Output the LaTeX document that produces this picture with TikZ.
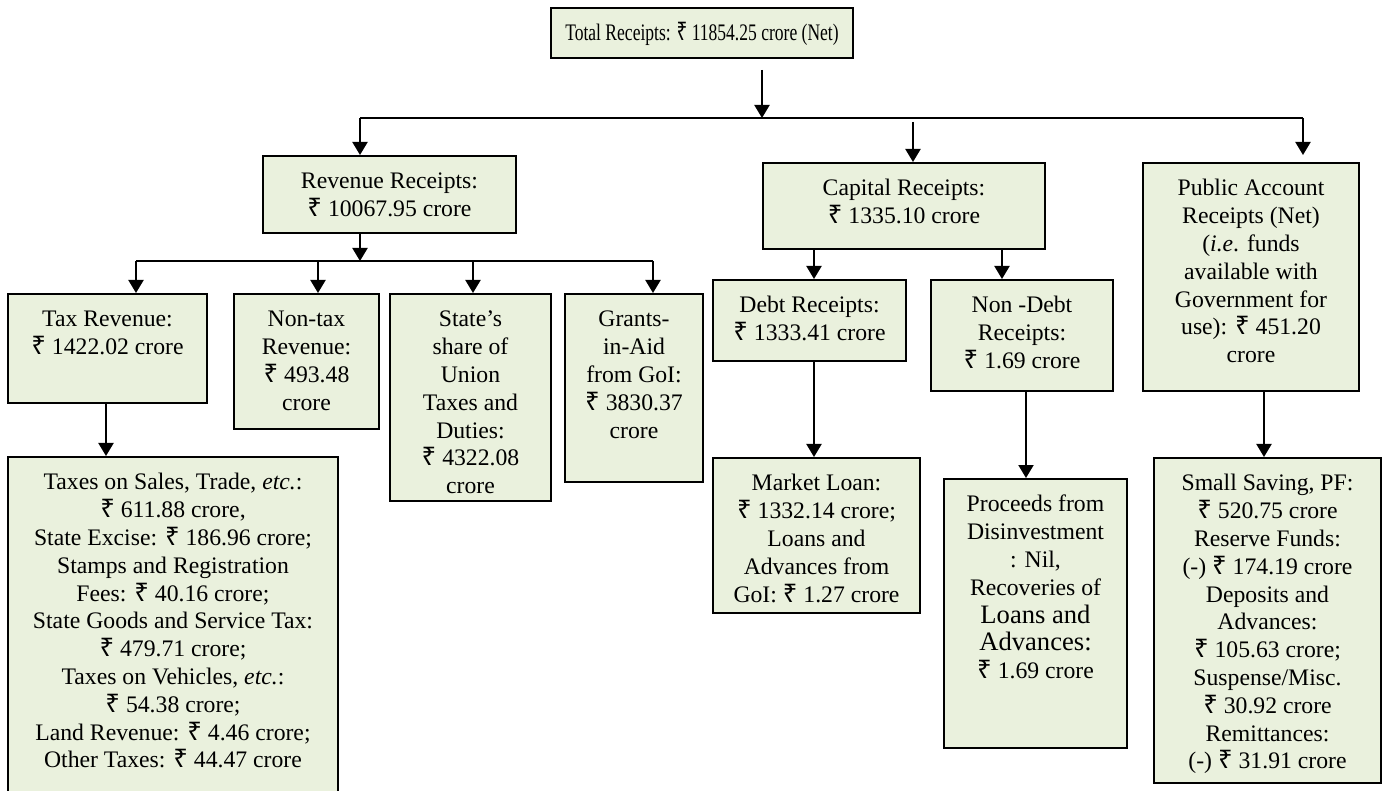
\documentclass[tikz,border=0pt]{standalone}
\usepackage{fontspec}
\usepackage{graphicx}
\setmainfont{Liberation Serif}
\newfontfamily\rupeefont{Noto Sans}[Scale=1.08]
\usetikzlibrary{arrows.meta}

\definecolor{boxfill}{HTML}{EAF1DD}
\newcommand{\Rs}{{\rupeefont\bfseries ₹}}
\newlength{\pxu}\setlength{\pxu}{0.5pt}
% box contents: width, height (in pixels), lines set from the top
\newcommand{\cell}[3]{\parbox[c][#2\pxu][t]{#1\pxu}{\centering\vspace*{6.7pt}\strut#3}}

\begin{document}
\begin{tikzpicture}[x=0.5pt,y=-0.5pt,font=\fontsize{11.85}{13.9}\selectfont,
    box/.style={draw,fill=boxfill,line width=1pt,inner sep=0pt,anchor=north west},
    arr/.style={-{Triangle[width=7.5pt,length=6.5pt]},line width=1pt},
    link/.style={line width=1pt}]
\useasboundingbox (0,0) rectangle (1388,791);

% Top level
\node[box] (total) at (550,7) {\cell{302}{50}{\scalebox{0.74}[1]{Total Receipts: \Rs\ 11854.25 crore (Net)}}};

\node[box] (revenue) at (262,155) {\cell{253}{77}{Revenue Receipts:\\\Rs\ 10067.95 crore}};
\node[box] (capital) at (762,162) {\cell{282}{86}{Capital Receipts:\\\Rs\ 1335.10 crore}};
\node[box] (public) at (1142,162) {\cell{216}{228}{Public Account\\Receipts (Net)\\(\textit{i.e}. funds\\available with\\Government for\\use): \Rs\ 451.20\\crore}};

% Revenue branch
\node[box] (taxrev) at (7,293) {\cell{199}{109}{Tax Revenue:\\\Rs\ 1422.02 crore}};
\node[box] (nontax) at (233,293) {\cell{145}{135}{Non-tax\\Revenue:\\\Rs\ 493.48\\crore}};
\node[box] (share) at (389,293) {\cell{161}{207}{State's\\share of\\Union\\Taxes and\\Duties:\\\Rs\ 4322.08\\crore}};
\node[box] (grants) at (564,293) {\cell{138}{188}{Grants-\\in-Aid\\from GoI:\\\Rs\ 3830.37\\crore}};
\node[box] (taxdet) at (7,456) {\cell{330}{345}{Taxes on Sales, Trade, \textit{etc.}:\\\Rs\ 611.88 crore,\\State Excise: \Rs\ 186.96 crore;\\Stamps and Registration\\Fees: \Rs\ 40.16 crore;\\State Goods and Service Tax:\\\Rs\ 479.71 crore;\\Taxes on Vehicles, \textit{etc.}:\\\Rs\ 54.38 crore;\\Land Revenue: \Rs\ 4.46 crore;\\Other Taxes: \Rs\ 44.47 crore}};

% Capital branch
\node[box] (debt) at (712,279) {\cell{193}{81}{Debt Receipts:\\\Rs\ 1333.41 crore}};
\node[box] (nondebt) at (930,279) {\cell{182}{111}{Non -Debt\\Receipts:\\\Rs\ 1.69 crore}};
\node[box] (market) at (712,457) {\cell{207}{155}{Market Loan:\\\Rs\ 1332.14 crore;\\Loans and\\Advances from\\GoI: \Rs\ 1.27 crore}};
\node[box] (proceeds) at (943,478) {\cell{183}{269}{Proceeds from\\Disinvestment\\: Nil,\\Recoveries of\\{\fontsize{13.3}{13.9}\selectfont Loans and\\Advances:}\\\Rs\ 1.69 crore}};

% Public account branch
\node[box] (pubdet) at (1153,457) {\cell{227}{325}{Small Saving, PF:\\\Rs\ 520.75 crore\\Reserve Funds:\\(-) \Rs\ 174.19 crore\\Deposits and\\Advances:\\\Rs\ 105.63 crore;\\Suspense/Misc.\\\Rs\ 30.92 crore\\Remittances:\\(-) \Rs\ 31.91 crore}};

% Junctions
\coordinate (t1) at (762,70);
\coordinate (j1) at (762,118);
\coordinate (jl) at (360,118);
\coordinate (jc) at (913,118);
\coordinate (jr) at (1303,118);
\coordinate (k1) at (360,261);
\coordinate (kl) at (136,261);
\coordinate (kn) at (318,261);
\coordinate (ks) at (473,261);
\coordinate (kr) at (653,261);
\coordinate (xt) at (106,0);
\coordinate (xd) at (814,0);
\coordinate (xn) at (1002,0);
\coordinate (xp) at (1026,0);
\coordinate (xa) at (1264,0);

% Draw edges
\draw[arr] (t1) -- (j1);
\draw[link] (jl) -- (jr);
\draw[arr] (jl) -- (revenue.north -| jl);
\draw[arr,shorten <=2pt] (jc) -- (capital.north -| jc);
\draw[arr,shorten >=3.5pt] (jr) -- (public.north -| jr);

\draw[arr] (revenue.south -| k1) -- (k1);
\draw[link] (kl) -- (kr);
\draw[arr] (kl) -- (taxrev.north -| kl);
\draw[arr] (kn) -- (nontax.north -| kn);
\draw[arr] (ks) -- (share.north -| ks);
\draw[arr] (kr) -- (grants.north -| kr);
\draw[arr] (taxrev.south -| xt) -- (taxdet.north -| xt);

\draw[arr] (capital.south -| xd) -- (debt.north -| xd);
\draw[arr] (capital.south -| xn) -- (nondebt.north -| xn);
\draw[arr] (debt.south -| xd) -- (market.north -| xd);
\draw[arr] (nondebt.south -| xp) -- (proceeds.north -| xp);

\draw[arr] (public.south -| xa) -- (pubdet.north -| xa);
\end{tikzpicture}
\end{document}
